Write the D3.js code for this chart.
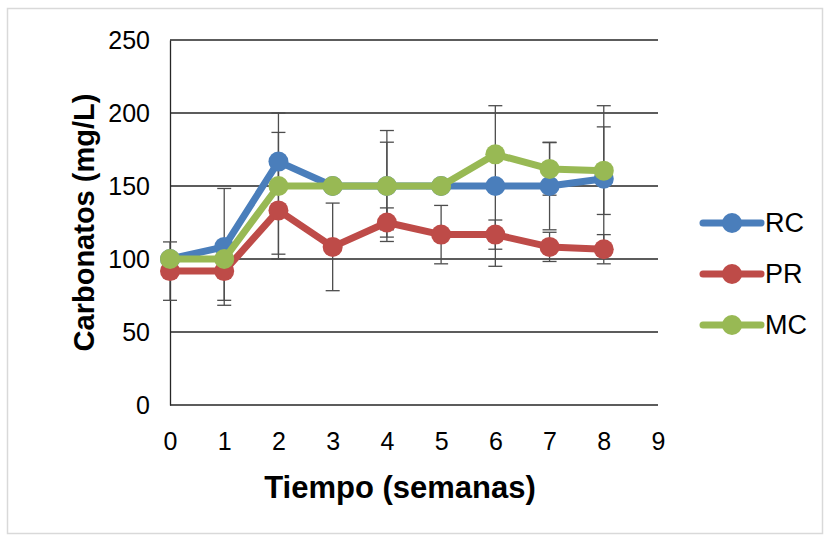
<!DOCTYPE html>
<html>
<head>
<meta charset="utf-8">
<script src="https://cdn.jsdelivr.net/npm/d3@7"></script>
<style>
	body { margin: 0; background: #fff; }
	text { font-family: "Liberation Sans", Arial, sans-serif; fill: #000; }
</style>
</head>
<body>
<svg id="chart"></svg>
<script>
// Data
const weeks = [0, 1, 2, 3, 4, 5, 6, 7, 8];
const rcValues = [100, 108.3, 166.7, 150, 150, 150, 150, 150, 155];
const prValues = [91.7, 91.7, 133.3, 108.3, 125, 116.7, 116.7, 108.3, 106.7];
const mcValues = [100, 100, 150, 150, 150, 150, 171.7, 161.7, 160.5];
const rcErrors = [0, 40, 20, 0, 30, 0, 55, 30, 50];
const prErrors = [20, 20, 30, 30, 10, 20, 10, 10, 10];
const mcErrors = [0, 0, 50, 0, 38, 0, 0, 18, 30];
const seriesNames = ["RC", "PR", "MC"];
const xTicks = [0, 1, 2, 3, 4, 5, 6, 7, 8, 9];
const yTicks = [0, 50, 100, 150, 200, 250];

const colors = {RC: "#4a7ebb", PR: "#be4b48", MC: "#98b954"};

const svgWidth = 832;
const svgHeight = 536;
const margin = {top: 40, right: 174, bottom: 131, left: 170};
const width = svgWidth - margin.left - margin.right,
	height = svgHeight - margin.top - margin.bottom;

const svg = d3.select('#chart')
	.attr("width", svgWidth)
	.attr("height", svgHeight);

// outer frame
svg.append("rect")
	.attr("x", 7.5).attr("y", 8.5)
	.attr("width", 815).attr("height", 525)
	.style("fill", "#fff")
	.style("stroke", "#d9d9d9")
	.style("stroke-width", 1.5);

const g = svg.append("g")
	.attr("transform", "translate(" + margin.left + "," + margin.top + ")");

const x = d3.scaleLinear().domain([0, 9]).range([0, width]);
const y = d3.scaleLinear().domain([0, 250]).range([height, 0]);

// gridlines
g.append("g")
	.selectAll("line")
	.data(yTicks)
	.enter().append("line")
		.attr("x1", 0).attr("x2", width)
		.attr("y1", d => y(d)).attr("y2", d => y(d))
		.style("stroke", "#262626")
		.style("stroke-width", 1.3);

// y axis
const yAxis = g.append("g")
	.call(d3.axisLeft(y).tickValues(yTicks).tickSize(0).tickPadding(20));
yAxis.select(".domain").style("stroke", "#262626").style("stroke-width", 1.3);
yAxis.selectAll("text").style("font-size", "25px");

// x axis
const xAxis = g.append("g")
	.attr("transform", "translate(0," + height + ")")
	.call(d3.axisBottom(x).tickValues(xTicks).tickSize(0).tickPadding(27));
xAxis.select(".domain").remove();
xAxis.selectAll("text").style("font-size", "25px");

// axis titles
svg.append("text")
	.attr("x", margin.left + width / 2 - 14)
	.attr("y", 498)
	.attr("text-anchor", "middle")
	.style("font-size", "31px")
	.style("font-weight", "bold")
	.text("Tiempo (semanas)");

svg.append("text")
	.attr("transform", "translate(94," + (margin.top + height / 2) + ") rotate(-90)")
	.attr("text-anchor", "middle")
	.style("font-size", "29px")
	.style("font-weight", "bold")
	.text("Carbonatos (mg/L)");

const series = [
	{name: "RC", values: rcValues, errors: rcErrors},
	{name: "PR", values: prValues, errors: prErrors},
	{name: "MC", values: mcValues, errors: mcErrors}
];

// error bars
const errG = g.append("g");
series.forEach(s => {
	const pts = weeks.map((w, i) => ({w: w, v: s.values[i], e: s.errors[i]})).filter(d => d.e > 0);
	const eb = errG.selectAll(".err-" + s.name)
		.data(pts)
		.enter().append("g")
		.attr("class", "err-" + s.name);
	eb.append("line")
		.attr("x1", d => x(d.w)).attr("x2", d => x(d.w))
		.attr("y1", d => y(d.v - d.e)).attr("y2", d => y(d.v + d.e));
	eb.append("line")
		.attr("x1", d => x(d.w) - 7).attr("x2", d => x(d.w) + 7)
		.attr("y1", d => y(d.v + d.e)).attr("y2", d => y(d.v + d.e));
	eb.append("line")
		.attr("x1", d => x(d.w) - 7).attr("x2", d => x(d.w) + 7)
		.attr("y1", d => y(d.v - d.e)).attr("y2", d => y(d.v - d.e));
});
errG.selectAll("line")
	.style("stroke", "#4d4d4d")
	.style("stroke-width", 1.3);

// lines and markers
const line = d3.line()
	.x((d, i) => x(weeks[i]))
	.y(d => y(d));

series.forEach(s => {
	g.append("path")
		.datum(s.values)
		.attr("d", line)
		.style("fill", "none")
		.style("stroke", colors[s.name])
		.style("stroke-width", 7)
		.style("stroke-linejoin", "round");
	g.selectAll(".dot-" + s.name)
		.data(s.values)
		.enter().append("circle")
		.attr("class", "dot-" + s.name)
		.attr("cx", (d, i) => x(weeks[i]))
		.attr("cy", d => y(d))
		.attr("r", 10)
		.style("fill", colors[s.name]);
});

// legend
const legend = svg.append("g")
	.attr("transform", "translate(703,223)");
const items = legend.selectAll(".legend-item")
	.data(seriesNames)
	.enter().append("g")
	.attr("class", "legend-item")
	.attr("transform", (d, i) => "translate(0," + i * 51 + ")");
items.append("line")
	.attr("x1", 0).attr("x2", 58)
	.style("stroke", d => colors[d])
	.style("stroke-width", 7)
	.style("stroke-linecap", "round");
items.append("circle")
	.attr("cx", 29).attr("r", 10)
	.style("fill", d => colors[d]);
items.append("text")
	.attr("x", 62)
	.attr("dy", "0.35em")
	.style("font-size", "27px")
	.text(d => d);
</script>
</body>
</html>
